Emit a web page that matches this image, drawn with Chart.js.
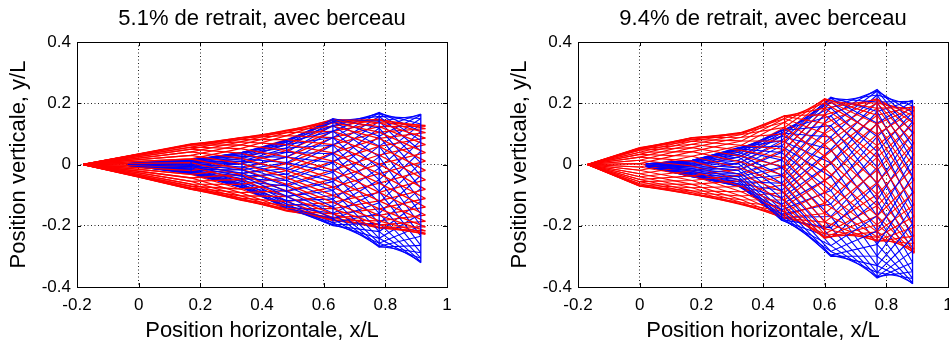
<!DOCTYPE html>
<html>
<head>
<meta charset="utf-8">
<script src="https://cdn.jsdelivr.net/npm/chart.js@4.4.1/dist/chart.umd.min.js"></script>
<style>
    html, body { margin: 0; padding: 0; background: #fff; overflow: hidden; width: 949px; height: 346px; }
    canvas { position: absolute; top: 0; }
    #leftChart { left: 0; }
    #rightChart { left: 501px; }
</style>
</head>
<body>
<canvas id="leftChart" width="475" height="346"></canvas>
<canvas id="rightChart" width="475" height="346"></canvas>
<script>
// Achsen-Ticks
const xTicks = [-0.2, 0, 0.2, 0.4, 0.6, 0.8, 1];
const yTicks = [-0.4, -0.2, 0, 0.2, 0.4];

// Links: 5.1% de retrait - Stationen (x/L) und Momentaufnahmen (y/L), zeitlich geordnet
const leftRedX = [-0.18, 0.0, 0.17, 0.33, 0.48, 0.63, 0.78, 0.93];
const leftRed = [
    [0, -0.003, -0.007, -0.049, -0.105, -0.161, -0.205, -0.225],
    [0, 0.004, 0.006, -0.032, -0.086, -0.144, -0.197, -0.228],
    [0, 0.010, 0.018, -0.014, -0.065, -0.124, -0.184, -0.225],
    [0, 0.016, 0.030, 0.004, -0.043, -0.101, -0.166, -0.217],
    [0, 0.021, 0.041, 0.021, -0.020, -0.074, -0.145, -0.204],
    [0, 0.026, 0.050, 0.037, 0.003, -0.047, -0.119, -0.186],
    [0, 0.030, 0.057, 0.052, 0.025, -0.018, -0.091, -0.165],
    [0, 0.033, 0.063, 0.064, 0.046, 0.011, -0.061, -0.139],
    [0, 0.034, 0.066, 0.074, 0.065, 0.038, -0.030, -0.111],
    [0, 0.035, 0.067, 0.082, 0.081, 0.065, 0.001, -0.081],
    [0, 0.034, 0.066, 0.087, 0.094, 0.088, 0.031, -0.050],
    [0, 0.033, 0.063, 0.088, 0.104, 0.108, 0.059, -0.019],
    [0, 0.030, 0.057, 0.087, 0.110, 0.125, 0.085, 0.011],
    [0, 0.026, 0.050, 0.082, 0.112, 0.137, 0.106, 0.039],
    [0, 0.021, 0.041, 0.074, 0.110, 0.145, 0.124, 0.065],
    [0, 0.016, 0.030, 0.064, 0.104, 0.147, 0.137, 0.086],
    [0, 0.010, 0.018, 0.052, 0.094, 0.145, 0.145, 0.104],
    [0, 0.004, 0.006, 0.037, 0.081, 0.137, 0.148, 0.117],
    [0, -0.003, -0.007, 0.021, 0.065, 0.125, 0.145, 0.125],
    [0, -0.010, -0.020, 0.004, 0.046, 0.108, 0.137, 0.128],
    [0, -0.016, -0.032, -0.014, 0.025, 0.088, 0.124, 0.125],
    [0, -0.022, -0.044, -0.032, 0.003, 0.065, 0.106, 0.117],
    [0, -0.027, -0.055, -0.049, -0.020, 0.038, 0.085, 0.104],
    [0, -0.032, -0.064, -0.065, -0.043, 0.011, 0.059, 0.086],
    [0, -0.036, -0.071, -0.080, -0.065, -0.018, 0.031, 0.065],
    [0, -0.039, -0.077, -0.092, -0.086, -0.047, 0.001, 0.039],
    [0, -0.040, -0.080, -0.102, -0.105, -0.074, -0.030, 0.011],
    [0, -0.041, -0.081, -0.110, -0.121, -0.101, -0.061, -0.019],
    [0, -0.040, -0.080, -0.115, -0.134, -0.124, -0.091, -0.050],
    [0, -0.039, -0.077, -0.116, -0.144, -0.144, -0.119, -0.081],
    [0, -0.036, -0.071, -0.115, -0.150, -0.161, -0.145, -0.111],
    [0, -0.032, -0.064, -0.110, -0.152, -0.173, -0.166, -0.139],
    [0, -0.027, -0.055, -0.102, -0.150, -0.181, -0.184, -0.165],
    [0, -0.022, -0.044, -0.092, -0.144, -0.183, -0.197, -0.186],
    [0, -0.016, -0.032, -0.080, -0.134, -0.181, -0.205, -0.204],
    [0, -0.010, -0.020, -0.065, -0.121, -0.173, -0.208, -0.217]
];
const leftBlueX = [-0.035, 0.17, 0.335, 0.48, 0.63, 0.78, 0.915];
const leftBlue = [
    [0, -0.007, -0.038, -0.104, -0.177, -0.267, -0.234],
    [0.001, -0.003, -0.028, -0.088, -0.159, -0.270, -0.264],
    [0.001, 0.001, -0.018, -0.070, -0.138, -0.267, -0.288],
    [0.002, 0.004, -0.008, -0.052, -0.113, -0.257, -0.306],
    [0.002, 0.007, 0.002, -0.032, -0.085, -0.241, -0.317],
    [0.002, 0.010, 0.011, -0.013, -0.056, -0.219, -0.321],
    [0.003, 0.012, 0.019, 0.006, -0.025, -0.192, -0.317],
    [0.003, 0.014, 0.026, 0.024, 0.006, -0.160, -0.306],
    [0.003, 0.015, 0.032, 0.040, 0.035, -0.125, -0.288],
    [0.003, 0.015, 0.037, 0.054, 0.063, -0.088, -0.264],
    [0.003, 0.015, 0.039, 0.065, 0.088, -0.050, -0.234],
    [0.003, 0.014, 0.040, 0.073, 0.109, -0.012, -0.200],
    [0.003, 0.012, 0.039, 0.078, 0.127, 0.025, -0.161],
    [0.002, 0.010, 0.037, 0.080, 0.140, 0.060, -0.120],
    [0.002, 0.007, 0.032, 0.078, 0.147, 0.092, -0.078],
    [0.002, 0.004, 0.026, 0.073, 0.150, 0.119, -0.036],
    [0.001, 0.001, 0.019, 0.065, 0.147, 0.141, 0.005],
    [0.001, -0.003, 0.011, 0.054, 0.140, 0.157, 0.044],
    [0, -0.007, 0.002, 0.040, 0.127, 0.167, 0.078],
    [-0.001, -0.011, -0.008, 0.024, 0.109, 0.170, 0.108],
    [-0.001, -0.015, -0.018, 0.006, 0.088, 0.167, 0.132],
    [-0.002, -0.018, -0.028, -0.013, 0.063, 0.157, 0.150],
    [-0.002, -0.021, -0.038, -0.032, 0.035, 0.141, 0.161],
    [-0.002, -0.024, -0.047, -0.052, 0.006, 0.119, 0.165],
    [-0.003, -0.026, -0.055, -0.070, -0.025, 0.092, 0.161],
    [-0.003, -0.028, -0.062, -0.088, -0.056, 0.060, 0.150],
    [-0.003, -0.029, -0.068, -0.104, -0.085, 0.025, 0.132],
    [-0.003, -0.029, -0.073, -0.118, -0.113, -0.012, 0.108],
    [-0.003, -0.029, -0.075, -0.129, -0.138, -0.050, 0.078],
    [-0.003, -0.028, -0.076, -0.137, -0.159, -0.088, 0.044],
    [-0.003, -0.026, -0.075, -0.142, -0.177, -0.125, 0.005],
    [-0.002, -0.024, -0.073, -0.144, -0.190, -0.160, -0.036],
    [-0.002, -0.021, -0.068, -0.142, -0.197, -0.192, -0.078],
    [-0.002, -0.018, -0.062, -0.137, -0.200, -0.219, -0.120],
    [-0.001, -0.015, -0.055, -0.129, -0.197, -0.241, -0.161],
    [-0.001, -0.011, -0.047, -0.118, -0.190, -0.257, -0.200]
];

// Rechts: 9.4% de retrait
const rightRedX = [-0.17, 0.0, 0.17, 0.33, 0.47, 0.6, 0.77, 0.89];
const rightRed = [
    [0, -0.008, -0.037, -0.089, -0.154, -0.238, -0.168, -0.050],
    [0, 0.003, -0.021, -0.072, -0.137, -0.241, -0.197, -0.092],
    [0, 0.014, -0.005, -0.053, -0.116, -0.238, -0.220, -0.132],
    [0, 0.024, 0.011, -0.034, -0.092, -0.227, -0.237, -0.170],
    [0, 0.033, 0.027, -0.013, -0.066, -0.210, -0.248, -0.204],
    [0, 0.040, 0.042, 0.008, -0.037, -0.188, -0.251, -0.234],
    [0, 0.047, 0.055, 0.027, -0.008, -0.160, -0.248, -0.258],
    [0, 0.051, 0.066, 0.046, 0.021, -0.127, -0.237, -0.276],
    [0, 0.054, 0.076, 0.063, 0.050, -0.091, -0.220, -0.286],
    [0, 0.055, 0.082, 0.077, 0.076, -0.053, -0.197, -0.290],
    [0, 0.054, 0.087, 0.089, 0.100, -0.013, -0.168, -0.286],
    [0, 0.051, 0.088, 0.098, 0.121, 0.027, -0.135, -0.276],
    [0, 0.047, 0.087, 0.103, 0.138, 0.065, -0.098, -0.258],
    [0, 0.040, 0.082, 0.105, 0.150, 0.101, -0.059, -0.234],
    [0, 0.033, 0.076, 0.103, 0.158, 0.134, -0.018, -0.204],
    [0, 0.024, 0.066, 0.098, 0.160, 0.162, 0.023, -0.170],
    [0, 0.014, 0.055, 0.089, 0.158, 0.184, 0.062, -0.132],
    [0, 0.003, 0.042, 0.077, 0.150, 0.201, 0.099, -0.092],
    [0, -0.008, 0.027, 0.063, 0.138, 0.212, 0.132, -0.050],
    [0, -0.019, 0.011, 0.046, 0.121, 0.215, 0.161, -0.008],
    [0, -0.030, -0.005, 0.027, 0.100, 0.212, 0.184, 0.032],
    [0, -0.040, -0.021, 0.008, 0.076, 0.201, 0.201, 0.070],
    [0, -0.049, -0.037, -0.013, 0.050, 0.184, 0.212, 0.104],
    [0, -0.056, -0.052, -0.034, 0.021, 0.162, 0.215, 0.134],
    [0, -0.063, -0.065, -0.053, -0.008, 0.134, 0.212, 0.158],
    [0, -0.067, -0.076, -0.072, -0.037, 0.101, 0.201, 0.176],
    [0, -0.070, -0.086, -0.089, -0.066, 0.065, 0.184, 0.186],
    [0, -0.071, -0.092, -0.103, -0.092, 0.027, 0.161, 0.190],
    [0, -0.070, -0.097, -0.115, -0.116, -0.013, 0.132, 0.186],
    [0, -0.067, -0.098, -0.124, -0.137, -0.053, 0.099, 0.176],
    [0, -0.063, -0.097, -0.129, -0.154, -0.091, 0.062, 0.158],
    [0, -0.056, -0.092, -0.131, -0.166, -0.127, 0.023, 0.134],
    [0, -0.049, -0.086, -0.129, -0.174, -0.160, -0.018, 0.104],
    [0, -0.040, -0.076, -0.124, -0.176, -0.188, -0.059, 0.070],
    [0, -0.030, -0.065, -0.115, -0.174, -0.210, -0.098, 0.032],
    [0, -0.019, -0.052, -0.103, -0.166, -0.227, -0.135, -0.008]
];
const rightBlueX = [0.02, 0.17, 0.32, 0.46, 0.62, 0.77, 0.885];
const rightBlue = [
    [-0.002, -0.022, -0.049, -0.180, -0.265, -0.168, 0.013],
    [-0.001, -0.018, -0.040, -0.173, -0.284, -0.217, -0.038],
    [-0.001, -0.013, -0.030, -0.162, -0.296, -0.261, -0.090],
    [0, -0.008, -0.019, -0.148, -0.300, -0.299, -0.142],
    [0.001, -0.004, -0.008, -0.130, -0.296, -0.330, -0.193],
    [0.001, 0.001, 0.003, -0.109, -0.284, -0.353, -0.240],
    [0.001, 0.004, 0.014, -0.085, -0.265, -0.366, -0.283],
    [0.002, 0.008, 0.024, -0.061, -0.239, -0.371, -0.320],
    [0.002, 0.010, 0.033, -0.035, -0.207, -0.366, -0.350],
    [0.002, 0.012, 0.040, -0.009, -0.170, -0.353, -0.372],
    [0.002, 0.014, 0.047, 0.015, -0.129, -0.330, -0.386],
    [0.002, 0.014, 0.051, 0.039, -0.085, -0.299, -0.390],
    [0.001, 0.014, 0.054, 0.060, -0.040, -0.261, -0.386],
    [0.001, 0.012, 0.055, 0.078, 0.005, -0.217, -0.372],
    [0.001, 0.010, 0.054, 0.092, 0.049, -0.168, -0.350],
    [0, 0.008, 0.051, 0.103, 0.090, -0.117, -0.320],
    [-0.001, 0.004, 0.047, 0.110, 0.127, -0.063, -0.283],
    [-0.001, 0.001, 0.040, 0.112, 0.159, -0.009, -0.240],
    [-0.002, -0.004, 0.033, 0.110, 0.185, 0.042, -0.193],
    [-0.003, -0.008, 0.024, 0.103, 0.204, 0.091, -0.142],
    [-0.003, -0.013, 0.014, 0.092, 0.216, 0.135, -0.090],
    [-0.004, -0.018, 0.003, 0.078, 0.220, 0.173, -0.038],
    [-0.005, -0.022, -0.008, 0.060, 0.216, 0.204, 0.013],
    [-0.005, -0.027, -0.019, 0.039, 0.204, 0.227, 0.060],
    [-0.005, -0.030, -0.030, 0.015, 0.185, 0.240, 0.103],
    [-0.006, -0.034, -0.040, -0.009, 0.159, 0.245, 0.140],
    [-0.006, -0.036, -0.049, -0.035, 0.127, 0.240, 0.170],
    [-0.006, -0.038, -0.056, -0.061, 0.090, 0.227, 0.192],
    [-0.006, -0.040, -0.063, -0.085, 0.049, 0.204, 0.206],
    [-0.006, -0.040, -0.067, -0.109, 0.005, 0.173, 0.210],
    [-0.005, -0.040, -0.070, -0.130, -0.040, 0.135, 0.206],
    [-0.005, -0.038, -0.071, -0.148, -0.085, 0.091, 0.192],
    [-0.005, -0.036, -0.070, -0.162, -0.129, 0.042, 0.170],
    [-0.004, -0.034, -0.067, -0.173, -0.170, -0.009, 0.140],
    [-0.003, -0.030, -0.063, -0.180, -0.207, -0.063, 0.103],
    [-0.003, -0.027, -0.056, -0.182, -0.239, -0.117, 0.060]
];

const FONT = "'Liberation Sans', Arial, Helvetica, sans-serif";
const RED = '#ff0000';
const BLUE = '#0000ff';

function lineSet(points, color, width) {
    return { data: points, borderColor: color, borderWidth: width, showLine: true, pointRadius: 0, tension: 0 };
}

// eine Linie je Momentaufnahme
function snapshotSets(stations, snaps, color, width) {
    return snaps.map(s => lineSet(s.map((y, i) => ({ x: stations[i], y: y })), color, width));
}

// Bahnkurve einer Station über alle Momentaufnahmen
function trackSets(stations, snaps, color, width, which) {
    return which.map(i => {
        let pts = snaps.map(s => ({ x: stations[i], y: s[i] }));
        pts.push(pts[0]);
        return lineSet(pts, color, width);
    });
}

// rote und blaue Linien abwechselnd zeichnen
function interleave(red, blue) {
    let out = [];
    blue.forEach((b, k) => { out.push(b); if (red[k]) out.push(red[k]); });
    return out;
}

// Rahmen und innere Tickmarken wie in MATLAB
const axesBox = {
    id: 'axesBox',
    afterDraw(chart) {
        const { ctx, chartArea: a, scales: { x, y } } = chart;
        ctx.save();
        ctx.strokeStyle = '#000';
        ctx.lineWidth = 1;
        ctx.strokeRect(a.left + 0.5, a.top + 0.5, a.right - a.left, a.bottom - a.top);
        ctx.beginPath();
        xTicks.forEach(v => {
            const px = Math.round(x.getPixelForValue(v)) + 0.5;
            ctx.moveTo(px, a.bottom); ctx.lineTo(px, a.bottom - 4);
            ctx.moveTo(px, a.top); ctx.lineTo(px, a.top + 4);
        });
        yTicks.forEach(v => {
            const py = Math.round(y.getPixelForValue(v)) + 0.5;
            ctx.moveTo(a.left, py); ctx.lineTo(a.left + 4, py);
            ctx.moveTo(a.right, py); ctx.lineTo(a.right - 4, py);
        });
        ctx.stroke();
        ctx.restore();
    }
};

function makeChart(id, title, datasets) {
    const ctx = document.getElementById(id).getContext('2d');
    new Chart(ctx, {
        type: 'scatter',
        data: { datasets: datasets },   // der erste Datensatz liegt oben
        options: {
            responsive: false,
            animation: false,
            events: [],
            layout: { padding: { left: 0, right: 28, top: 0, bottom: 0 } },
            plugins: {
                legend: { display: false },
                tooltip: { enabled: false },
                title: {
                    display: true,
                    text: title,
                    fullSize: false,
                    color: '#000',
                    font: { family: FONT, size: 22, weight: 'normal' },
                    padding: { top: 6, bottom: 9.6 }
                }
            },
            scales: {
                x: {
                    type: 'linear',
                    min: -0.2, max: 1,
                    afterBuildTicks: s => { s.ticks = xTicks.map(v => ({ value: v })); },
                    afterFit: s => { s.height = 59; },
                    ticks: { color: '#000', font: { family: FONT, size: 17 }, padding: 8, maxRotation: 0, autoSkip: false, callback: v => String(v) },
                    grid: { color: '#222', lineWidth: 1, drawTicks: false },
                    border: { display: false, dash: [1, 2.5] },
                    title: { display: true, text: 'Position horizontale, x/L', color: '#000', font: { family: FONT, size: 22 }, padding: { top: 0, bottom: 2 } }
                },
                y: {
                    type: 'linear',
                    min: -0.4, max: 0.4,
                    afterBuildTicks: s => { s.ticks = yTicks.map(v => ({ value: v })); },
                    afterFit: s => { s.width = 77; },
                    ticks: { color: '#000', font: { family: FONT, size: 17 }, padding: 6, autoSkip: false, callback: v => String(v) },
                    grid: { color: '#222', lineWidth: 1, drawTicks: false },
                    border: { display: false, dash: [1, 2.5] },
                    title: { display: true, text: 'Position verticale, y/L', color: '#000', font: { family: FONT, size: 22 }, padding: { top: 6, bottom: 0 } }
                }
            }
        },
        plugins: [axesBox]
    });
}

// links: blaue Bahnkurven oben, Momentaufnahmen gemischt
makeChart('leftChart', '5.1% de retrait, avec berceau',
    trackSets(leftBlueX, leftBlue, BLUE, 1.3, [1, 2, 3, 4, 5, 6]).concat(
        interleave(snapshotSets(leftRedX, leftRed, RED, 1.3), snapshotSets(leftBlueX, leftBlue, BLUE, 1.1))));
// rechts: rot und blau gemischt
makeChart('rightChart', '9.4% de retrait, avec berceau',
    trackSets(rightRedX, rightRed, RED, 1.4, [4, 5, 6, 7]).concat(
        trackSets(rightBlueX, rightBlue, BLUE, 1.3, [3, 5, 6]),
        interleave(snapshotSets(rightRedX, rightRed, RED, 1.1), snapshotSets(rightBlueX, rightBlue, BLUE, 1.1))));
</script>
</body>
</html>
